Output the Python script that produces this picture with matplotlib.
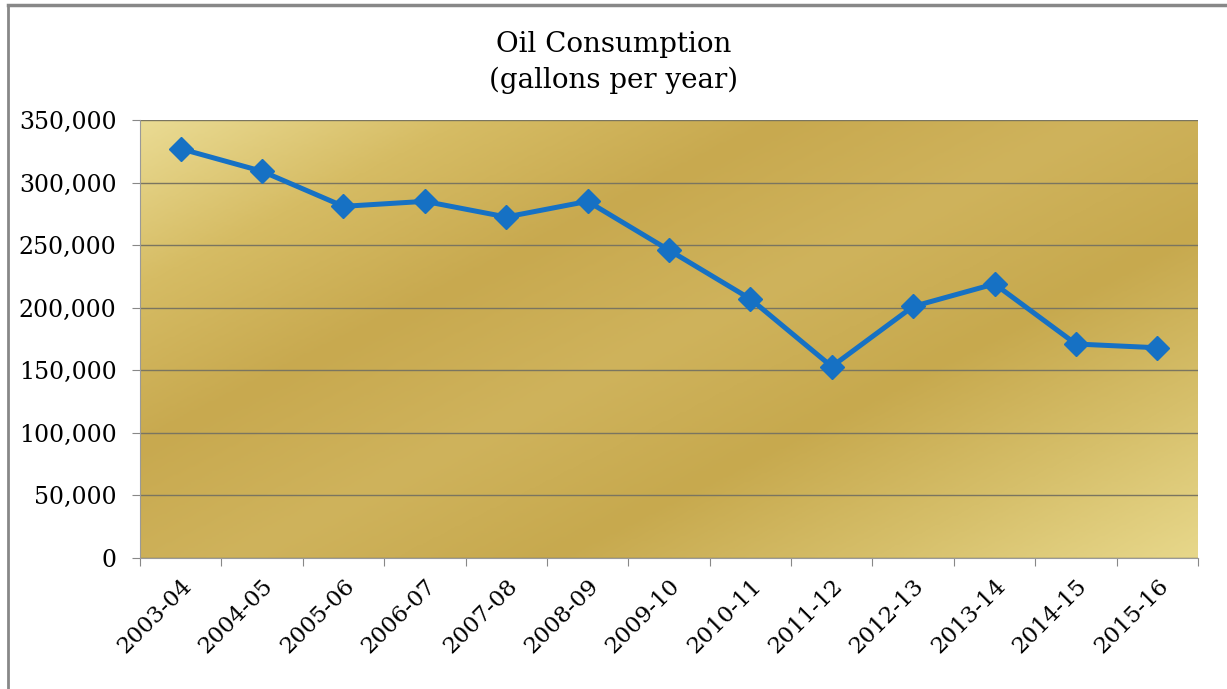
import numpy as np
import matplotlib.pyplot as plt
from matplotlib.colors import LinearSegmentedColormap
from matplotlib.ticker import FuncFormatter

years = ["2003-04", "2004-05", "2005-06", "2006-07", "2007-08", "2008-09", "2009-10",
         "2010-11", "2011-12", "2012-13", "2013-14", "2014-15", "2015-16"]
gallons = [327000, 309000, 281000, 285000, 272500, 285000, 246000,
           207000, 153000, 201000, 219000, 171000, 168000]
yticks = [0, 50000, 100000, 150000, 200000, 250000, 300000, 350000]

plt.rcParams['font.family'] = ['DejaVu Serif']

fig = plt.figure(figsize=(12.27, 6.89), dpi=100)
ax = fig.add_axes([140/1227, 131/689, 1058/1227, 438/689])

# gold gradient background, light at top-left and bottom-right
gold = LinearSegmentedColormap.from_list("gold", ["#eadb93", "#d6bc64", "#c8a94f", "#cfb35c",
                                                  "#c7a94e", "#d6bf6a", "#e7d78a"])
gx, gy = np.meshgrid(np.linspace(0, 1, 300), np.linspace(0, 1, 200))
grad = gx * 0.55 + gy * 0.45
ax.imshow(grad, cmap=gold, extent=[-0.5, 12.5, 0, 350000], aspect='auto',
          zorder=0, interpolation='bilinear')

x = np.arange(len(years))
ax.plot(x, gallons, color='#1671c4', lw=3.6, marker='D', ms=12, zorder=3)

ax.set_xlim(-0.5, len(years) - 0.5)
ax.set_ylim(0, 350000)
ax.set_yticks(yticks)
ax.yaxis.set_major_formatter(FuncFormatter(lambda v, p: f"{int(v):,}"))
ax.grid(axis='y', color='#7a7560', lw=1.0, zorder=1)

ax.set_xticks(np.arange(-0.5, len(years)), labels=[])
ax.set_xticks(x, labels=years, minor=True)
ax.tick_params(axis='x', which='minor', length=0, pad=12)
ax.tick_params(axis='x', which='major', length=6, color='#888888')
ax.tick_params(axis='y', length=6, color='#888888', labelsize=17, pad=11)
for lbl in ax.get_xticklabels(minor=True):
    lbl.set_rotation(45)
    lbl.set_ha('right')
    lbl.set_rotation_mode('anchor')
    lbl.set_fontsize(16.5)

for s in ['top', 'right']:
    ax.spines[s].set_visible(False)
for s in ['left', 'bottom']:
    ax.spines[s].set_color('#999999')

fig.text(0.5, 0.935, "Oil Consumption", ha='center', va='center', fontsize=20)
fig.text(0.5, 0.883, "(gallons per year)", ha='center', va='center', fontsize=20)

# frame around the chart
fig.add_artist(plt.Line2D([8/1227, 8/1227], [0, 684/689], color='#888888', lw=2))
fig.add_artist(plt.Line2D([8/1227, 1], [684/689, 684/689], color='#888888', lw=2.5))

fig.savefig("out.png", dpi=100)
